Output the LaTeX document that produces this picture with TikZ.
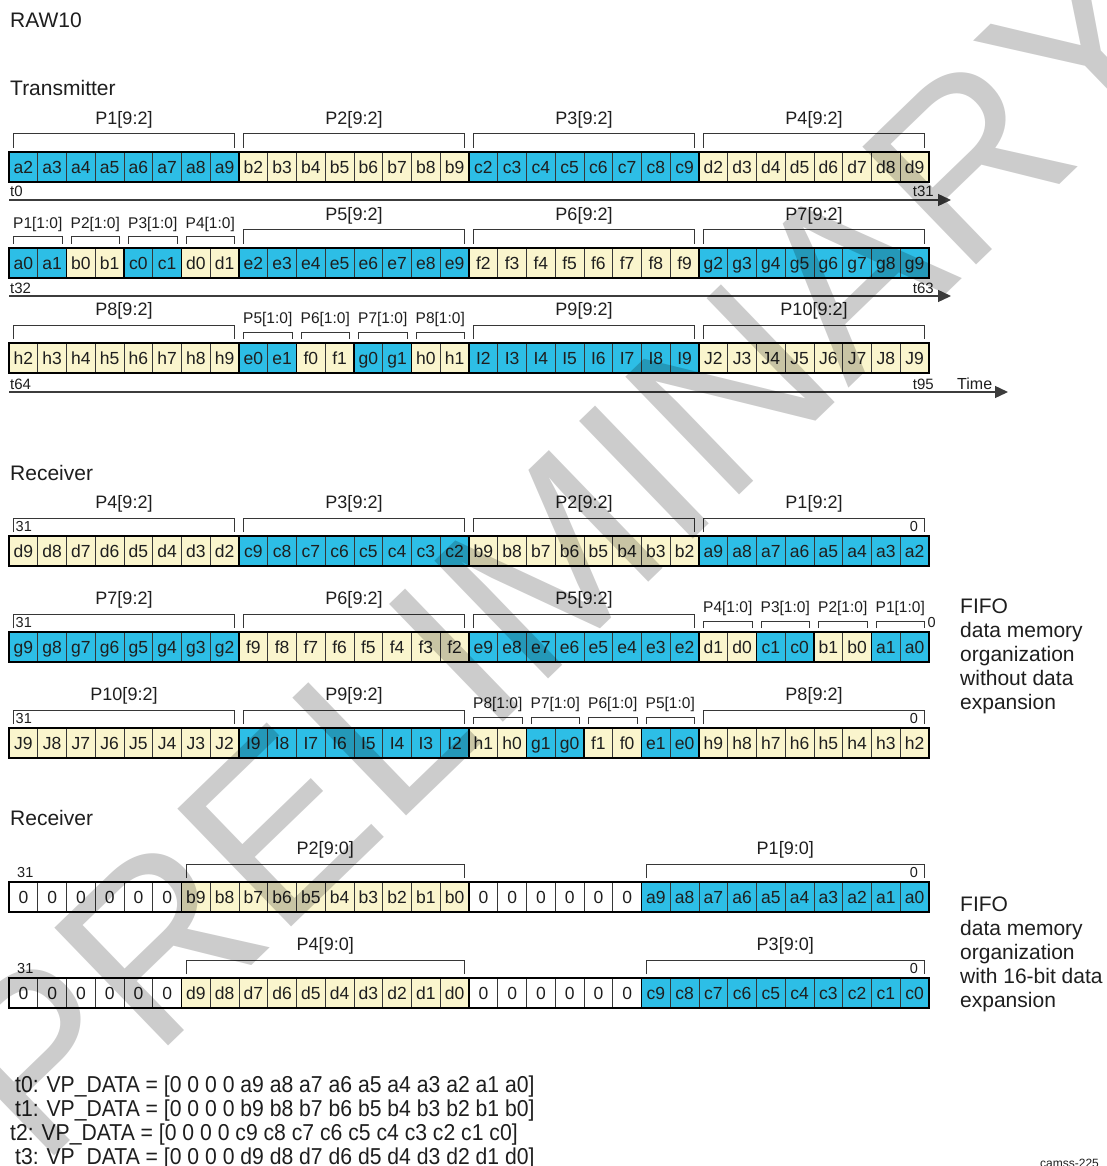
\documentclass[tikz,border=0pt]{standalone}
\usepackage{fontspec}
\setmainfont{Liberation Sans}
\newfontfamily\narrowfont[FakeStretch=0.92]{Liberation Sans}
\usetikzlibrary{arrows.meta,calc}
\definecolor{cy}{RGB}{45,190,230}
\definecolor{cr}{RGB}{250,245,205}
\definecolor{wh}{RGB}{255,255,255}
\definecolor{cellline}{RGB}{55,55,55}
\definecolor{txt}{RGB}{30,30,30}
\definecolor{axisc}{RGB}{60,60,60}
\newcommand\fs[2]{\fontsize{#1}{#2}\selectfont}
% row of cells: row name, y top, start index, prefix, list, colour
\newcommand\grp[6]{\foreach \d [count=\k from #3] in {#5}{\node[cell,fill=#6] (#1-\k) at ({23.375+28.75*\k},{#2+15}) {#4\d};}}
\newcommand\gbox[3]{\draw[grpline] (#1-#2.north west) rectangle (#1-#3.south east);}
\newcommand\rbox[1]{\draw[rowline] (#1-0.north west) rectangle (#1-31.south east);}
\newcommand\bigbr[4]{\draw[brk] ([shift={(4.5pt,4pt)}]#1-#2.north west) -- ++(0pt,14pt) -| ([shift={(-4.5pt,4pt)}]#1-#3.north east);
  \node[blab] (#1-bl#2) at ($(#1-#2.north west)!0.5!(#1-#3.north east)+(0pt,32pt)$) {#4};}
\newcommand\smbr[4]{\draw[brk] ([shift={(4.5pt,4pt)}]#1-#2.north west) -- ++(0pt,7pt) -| ([shift={(-4.5pt,4pt)}]#1-#3.north east);
  \node[slab] (#1-sl#2) at ($(#1-#2.north west)!0.5!(#1-#3.north east)+(0pt,24pt)$) {#4};}
\begin{document}
\begin{tikzpicture}[x=1pt,y=-1pt,
  cell/.style={draw=cellline, line width=0.8pt, minimum width=28.75pt, minimum height=30pt, inner sep=0pt, outer sep=0pt, text=txt, font=\fs{17.5}{20}, text height=12.5pt, text depth=0pt},
  grpline/.style={draw=black, line width=1.3pt},
  rowline/.style={draw=black, line width=2.6pt},
  brk/.style={draw=cellline, line width=1pt},
  blab/.style={inner sep=0pt, text=txt, font=\fs{18}{20}},
  slab/.style={inner sep=0pt, text=txt, font=\fs{15.5}{18}},
  lab/.style={inner sep=0pt, text=txt},
  numlab/.style={inner sep=0pt, text=txt, font=\fs{14.5}{16}},
  axis/.style={draw=axisc, line width=1.3pt, -{Triangle[length=13pt,width=12pt]}},
]
\useasboundingbox (0,0) rectangle (1106,1166);
\fill[white] (0,0) rectangle (1106,1166);

\node[lab, anchor=base west, font=\fs{21}{24}] (title) at (10,28) {RAW10};
\node[lab, anchor=base west, font=\fs{21}{24}] (tx) at (10,95.5) {Transmitter};

% ---------- Transmitter row 1
\grp{t1}{152}{0}{a}{2,...,9}{cy}
\grp{t1}{152}{8}{b}{2,...,9}{cr}
\grp{t1}{152}{16}{c}{2,...,9}{cy}
\grp{t1}{152}{24}{d}{2,...,9}{cr}
\gbox{t1}{0}{7}\gbox{t1}{8}{15}\gbox{t1}{16}{23}\gbox{t1}{24}{31}\rbox{t1}
\bigbr{t1}{0}{7}{P1[9:2]}\bigbr{t1}{8}{15}{P2[9:2]}\bigbr{t1}{16}{23}{P3[9:2]}\bigbr{t1}{24}{31}{P4[9:2]}
\coordinate (ax1s) at (9,200); \coordinate (ax1e) at (951,200);
\draw[axis] (ax1s) -- (ax1e);
\node[lab, anchor=base west, font=\fs{15}{16}] (t0) at (10,197) {t0};
\node[lab, anchor=base east, font=\fs{15}{16}] (t31) at (934,197) {t31};

% ---------- Transmitter row 2
\grp{t2}{248}{0}{a}{0,1}{cy}
\grp{t2}{248}{2}{b}{0,1}{cr}
\grp{t2}{248}{4}{c}{0,1}{cy}
\grp{t2}{248}{6}{d}{0,1}{cr}
\grp{t2}{248}{8}{e}{2,...,9}{cy}
\grp{t2}{248}{16}{f}{2,...,9}{cr}
\grp{t2}{248}{24}{g}{2,...,9}{cy}
\gbox{t2}{0}{1}\gbox{t2}{2}{3}\gbox{t2}{4}{5}\gbox{t2}{6}{7}\gbox{t2}{8}{15}\gbox{t2}{16}{23}\gbox{t2}{24}{31}\rbox{t2}
\smbr{t2}{0}{1}{P1[1:0]}\smbr{t2}{2}{3}{P2[1:0]}\smbr{t2}{4}{5}{P3[1:0]}\smbr{t2}{6}{7}{P4[1:0]}
\bigbr{t2}{8}{15}{P5[9:2]}\bigbr{t2}{16}{23}{P6[9:2]}\bigbr{t2}{24}{31}{P7[9:2]}
\coordinate (ax2s) at (9,296); \coordinate (ax2e) at (951,296);
\draw[axis] (ax2s) -- (ax2e);
\node[lab, anchor=base west, font=\fs{15}{16}] (t32) at (10,293) {t32};
\node[lab, anchor=base east, font=\fs{15}{16}] (t63) at (934,293) {t63};

% ---------- Transmitter row 3
\grp{t3}{343}{0}{h}{2,...,9}{cr}
\grp{t3}{343}{8}{e}{0,1}{cy}
\grp{t3}{343}{10}{f}{0,1}{cr}
\grp{t3}{343}{12}{g}{0,1}{cy}
\grp{t3}{343}{14}{h}{0,1}{cr}
\grp{t3}{343}{16}{I}{2,...,9}{cy}
\grp{t3}{343}{24}{J}{2,...,9}{cr}
\gbox{t3}{0}{7}\gbox{t3}{8}{9}\gbox{t3}{10}{11}\gbox{t3}{12}{13}\gbox{t3}{14}{15}\gbox{t3}{16}{23}\gbox{t3}{24}{31}\rbox{t3}
\bigbr{t3}{0}{7}{P8[9:2]}
\smbr{t3}{8}{9}{P5[1:0]}\smbr{t3}{10}{11}{P6[1:0]}\smbr{t3}{12}{13}{P7[1:0]}\smbr{t3}{14}{15}{P8[1:0]}
\bigbr{t3}{16}{23}{P9[9:2]}\bigbr{t3}{24}{31}{P10[9:2]}
\coordinate (ax3s) at (9,392); \coordinate (ax3e) at (1008,392);
\draw[axis] (ax3s) -- (ax3e);
\node[lab, anchor=base west, font=\fs{15}{16}] (t64) at (10,389) {t64};
\node[lab, anchor=base east, font=\fs{15}{16}] (t95) at (934,389) {t95};
\node[lab, anchor=base west, font=\fs{16}{18}] (time) at (957,389) {Time};

% ---------- Receiver (without expansion)
\node[lab, anchor=base west, font=\fs{21}{24}] (rx1) at (10,480.5) {Receiver};

\grp{r1}{536}{0}{d}{9,8,...,2}{cr}
\grp{r1}{536}{8}{c}{9,8,...,2}{cy}
\grp{r1}{536}{16}{b}{9,8,...,2}{cr}
\grp{r1}{536}{24}{a}{9,8,...,2}{cy}
\gbox{r1}{0}{7}\gbox{r1}{8}{15}\gbox{r1}{16}{23}\gbox{r1}{24}{31}\rbox{r1}
\bigbr{r1}{0}{7}{P4[9:2]}\bigbr{r1}{8}{15}{P3[9:2]}\bigbr{r1}{16}{23}{P2[9:2]}\bigbr{r1}{24}{31}{P1[9:2]}
\node[numlab, anchor=west] (r1-hi) at ($(r1-0.north west)+(6.5pt,9pt)$) {31};
\node[numlab, anchor=east] (r1-lo) at ($(r1-31.north east)+(-11pt,9pt)$) {0};

\grp{r2}{632}{0}{g}{9,8,...,2}{cy}
\grp{r2}{632}{8}{f}{9,8,...,2}{cr}
\grp{r2}{632}{16}{e}{9,8,...,2}{cy}
\grp{r2}{632}{24}{d}{1,0}{cr}
\grp{r2}{632}{26}{c}{1,0}{cy}
\grp{r2}{632}{28}{b}{1,0}{cr}
\grp{r2}{632}{30}{a}{1,0}{cy}
\gbox{r2}{0}{7}\gbox{r2}{8}{15}\gbox{r2}{16}{23}\gbox{r2}{24}{25}\gbox{r2}{26}{27}\gbox{r2}{28}{29}\gbox{r2}{30}{31}\rbox{r2}
\bigbr{r2}{0}{7}{P7[9:2]}\bigbr{r2}{8}{15}{P6[9:2]}\bigbr{r2}{16}{23}{P5[9:2]}
\smbr{r2}{24}{25}{P4[1:0]}\smbr{r2}{26}{27}{P3[1:0]}\smbr{r2}{28}{29}{P2[1:0]}\smbr{r2}{30}{31}{P1[1:0]}
\node[numlab, anchor=west] (r2-hi) at ($(r2-0.north west)+(6.5pt,9pt)$) {31};
\node[numlab, anchor=west] (r2-lo) at ($(r2-31.north east)+(-1.5pt,9pt)$) {0};

\grp{r3}{728}{0}{J}{9,8,...,2}{cr}
\grp{r3}{728}{8}{I}{9,8,...,2}{cy}
\grp{r3}{728}{16}{h}{1,0}{cr}
\grp{r3}{728}{18}{g}{1,0}{cy}
\grp{r3}{728}{20}{f}{1,0}{cr}
\grp{r3}{728}{22}{e}{1,0}{cy}
\grp{r3}{728}{24}{h}{9,8,...,2}{cr}
\gbox{r3}{0}{7}\gbox{r3}{8}{15}\gbox{r3}{16}{17}\gbox{r3}{18}{19}\gbox{r3}{20}{21}\gbox{r3}{22}{23}\gbox{r3}{24}{31}\rbox{r3}
\bigbr{r3}{0}{7}{P10[9:2]}\bigbr{r3}{8}{15}{P9[9:2]}
\smbr{r3}{16}{17}{P8[1:0]}\smbr{r3}{18}{19}{P7[1:0]}\smbr{r3}{20}{21}{P6[1:0]}\smbr{r3}{22}{23}{P5[1:0]}
\bigbr{r3}{24}{31}{P8[9:2]}
\node[numlab, anchor=west] (r3-hi) at ($(r3-0.north west)+(6.5pt,9pt)$) {31};
\node[numlab, anchor=east] (r3-lo) at ($(r3-31.north east)+(-11pt,9pt)$) {0};

\node[lab, anchor=north west, align=left, font=\fs{21}{24}] (fifo1) at (960,599) {FIFO\\data memory\\organization\\without data\\expansion};

% ---------- Receiver (16-bit expansion)
\node[lab, anchor=base west, font=\fs{21}{24}] (rx2) at (10,825.5) {Receiver};

\grp{e1}{882}{0}{}{0,0,0,0,0,0}{wh}
\grp{e1}{882}{6}{b}{9,8,...,0}{cr}
\grp{e1}{882}{16}{}{0,0,0,0,0,0}{wh}
\grp{e1}{882}{22}{a}{9,8,...,0}{cy}
\gbox{e1}{0}{5}\gbox{e1}{6}{15}\gbox{e1}{16}{21}\gbox{e1}{22}{31}\rbox{e1}
\bigbr{e1}{6}{15}{P2[9:0]}\bigbr{e1}{22}{31}{P1[9:0]}
\node[numlab, anchor=west] (e1-hi) at ($(e1-0.north west)+(8pt,10pt)$) {31};
\node[numlab, anchor=east] (e1-lo) at ($(e1-31.north east)+(-11pt,10pt)$) {0};

\grp{e2}{978}{0}{}{0,0,0,0,0,0}{wh}
\grp{e2}{978}{6}{d}{9,8,...,0}{cr}
\grp{e2}{978}{16}{}{0,0,0,0,0,0}{wh}
\grp{e2}{978}{22}{c}{9,8,...,0}{cy}
\gbox{e2}{0}{5}\gbox{e2}{6}{15}\gbox{e2}{16}{21}\gbox{e2}{22}{31}\rbox{e2}
\bigbr{e2}{6}{15}{P4[9:0]}\bigbr{e2}{22}{31}{P3[9:0]}
\node[numlab, anchor=west] (e2-hi) at ($(e2-0.north west)+(8pt,10pt)$) {31};
\node[numlab, anchor=east] (e2-lo) at ($(e2-31.north east)+(-11pt,10pt)$) {0};

\node[lab, anchor=north west, align=left, font=\fs{21}{24}] (fifo2) at (960,896.5) {FIFO\\data memory\\organization\\with 16-bit data\\expansion};

% ---------- VP_DATA lines
\node[lab, anchor=base west, font=\narrowfont\fs{23}{24}] (vp0) at (15,1092) {t0: VP\_DATA = [0 0 0 0 a9 a8 a7 a6 a5 a4 a3 a2 a1 a0]};
\node[lab, anchor=base west, font=\narrowfont\fs{23}{24}] (vp1) at (15,1116) {t1: VP\_DATA = [0 0 0 0 b9 b8 b7 b6 b5 b4 b3 b2 b1 b0]};
\node[lab, anchor=base west, font=\narrowfont\fs{23}{24}] (vp2) at (10,1140) {t2: VP\_DATA = [0 0 0 0 c9 c8 c7 c6 c5 c4 c3 c2 c1 c0]};
\node[lab, anchor=base west, font=\narrowfont\fs{23}{24}] (vp3) at (15,1164) {t3: VP\_DATA = [0 0 0 0 d9 d8 d7 d6 d5 d4 d3 d2 d1 d0]};
\node[lab, anchor=base west, font=\fs{12}{14}] (code) at (1040,1167) {camss-225};

% ---------- watermark
\node[inner sep=0pt, rotate=44, text=black, opacity=0.2, font=\fs{238}{238}] (wm) at (562,552) {PRELIMINARY};
\end{tikzpicture}
\end{document}
